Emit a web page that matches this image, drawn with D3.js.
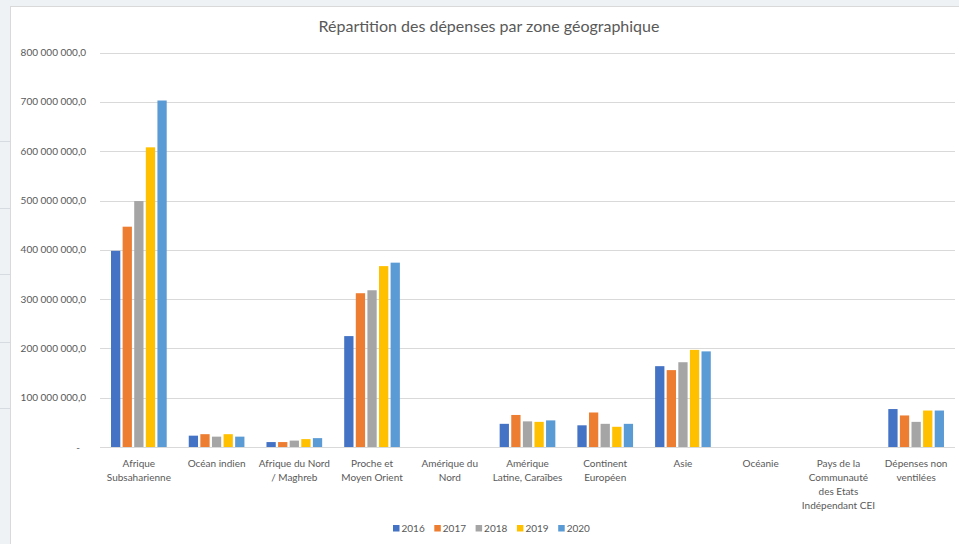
<!DOCTYPE html>
<html>
<head>
<meta charset="utf-8">
<script src="https://cdn.jsdelivr.net/npm/d3@7"></script>
<style>
  html, body { margin: 0; padding: 0; background: #eef2f5; overflow: hidden; }
  svg { display: block; font-family: Lato, "Liberation Sans", sans-serif; }
</style>
</head>
<body>
<script>
// categories (line breaks as in the Excel labels)
var categories = [
    ["Afrique", "Subsaharienne"],
    ["Océan indien"],
    ["Afrique du Nord", "/ Maghreb"],
    ["Proche et", "Moyen Orient"],
    ["Amérique du", "Nord"],
    ["Amérique", "Latine, Caraïbes"],
    ["Continent", "Européen"],
    ["Asie"],
    ["Océanie"],
    ["Pays de la", "Communauté", "des Etats", "Indépendant CEI"],
    ["Dépenses non", "ventilées"]
];
var years = ["2016", "2017", "2018", "2019", "2020"];
var colors = ["#4472C4", "#ED7D31", "#A5A5A5", "#FFC000", "#5B9BD5"];
// values in euros
var v2016 = [398e6, 23e6, 10e6, 225e6, 0, 47e6, 44e6, 164e6, 0, 0, 77e6];
var v2017 = [447e6, 26e6, 10e6, 312e6, 0, 65e6, 70e6, 156e6, 0, 0, 64e6];
var v2018 = [499e6, 21e6, 13e6, 318e6, 0, 52e6, 47e6, 172e6, 0, 0, 51e6];
var v2019 = [608e6, 26e6, 16e6, 367e6, 0, 51e6, 41e6, 197e6, 0, 0, 74e6];
var v2020 = [703e6, 21e6, 18e6, 374e6, 0, 54e6, 47e6, 194e6, 0, 0, 74e6];
var series = [v2016, v2017, v2018, v2019, v2020];
var yTicks = [0, 100e6, 200e6, 300e6, 400e6, 500e6, 600e6, 700e6, 800e6];

var W = 959, H = 544;
var svg = d3.select("body").append("svg")
    .attr("width", W)
    .attr("height", H);

// spreadsheet strip on the left
svg.append("rect")
    .attr("x", 0).attr("y", 0)
    .attr("width", W).attr("height", H)
    .attr("fill", "#eef2f5");
[141, 208, 274, 342, 408].forEach(function (y) {
    svg.append("line")
        .attr("x1", 0).attr("x2", 10)
        .attr("y1", y + 0.5).attr("y2", y + 0.5)
        .attr("stroke", "#d5dbe1");
});

// chart area
svg.append("rect")
    .attr("x", 10.5).attr("y", 6.5)
    .attr("width", W).attr("height", H)
    .attr("fill", "#ffffff")
    .attr("stroke", "#d9d9d9");

var x0 = d3.scaleBand()
    .domain(d3.range(categories.length))
    .range([100, 955]);
var x1 = d3.scaleBand()
    .domain(years)
    .range([0, x0.bandwidth()])
    .paddingInner(0.2)
    .paddingOuter(0.95);
var y = d3.scaleLinear()
    .domain([0, 800e6])
    .range([447, 52.7]);

var fr = d3.formatLocale({ decimal: ",", thousands: "\u00a0", grouping: [3], currency: ["", " €"] });
var fmt = fr.format(",.1f");

// gridlines + y labels
var yAxis = svg.append("g");
yAxis.selectAll("line")
    .data(yTicks)
    .enter().append("line")
    .attr("x1", 100).attr("x2", 955)
    .attr("y1", function (d) { return Math.round(y(d)) + 0.5; })
    .attr("y2", function (d) { return Math.round(y(d)) + 0.5; })
    .attr("stroke", "#d9d9d9");
yAxis.selectAll("text")
    .data(yTicks)
    .enter().append("text")
    .attr("x", function (d) { return d === 0 ? 80 : 86; })
    .attr("y", function (d) { return y(d) + 3.5; })
    .attr("text-anchor", "end")
    .attr("fill", "#595959")
    .style("font-size", "10px")
    .text(function (d) { return d === 0 ? "-" : fmt(d); });

// bars
var groups = svg.append("g").selectAll("g")
    .data(categories)
    .enter().append("g")
    .attr("transform", function (d, i) { return "translate(" + x0(i) + ",0)"; });
groups.selectAll("rect")
    .data(function (d, i) {
        return years.map(function (yr, k) { return { year: yr, k: k, value: series[k][i] }; });
    })
    .enter().append("rect")
    .attr("x", function (d) { return x1(d.year); })
    .attr("y", function (d) { return y(d.value); })
    .attr("width", x1.bandwidth())
    .attr("height", function (d) { return y(0) - y(d.value); })
    .attr("fill", function (d) { return colors[d.k]; });

// category labels
var lab = svg.append("g").selectAll("text")
    .data(categories)
    .enter().append("text")
    .attr("text-anchor", "middle")
    .attr("fill", "#595959")
    .style("font-size", "10px")
    .attr("transform", function (d, i) { return "translate(" + (x0(i) + x0.bandwidth() / 2) + ",467)"; });
lab.selectAll("tspan")
    .data(function (d) { return d; })
    .enter().append("tspan")
    .attr("x", 0)
    .attr("y", function (d, j) { return j * 14; })
    .text(function (d) { return d; });

// title
svg.append("text")
    .attr("x", 489).attr("y", 32)
    .attr("text-anchor", "middle")
    .attr("fill", "#595959")
    .style("font-size", "16px")
    .text("Répartition des dépenses par zone géographique");

// legend
var leg = svg.append("g").selectAll("g")
    .data(years)
    .enter().append("g")
    .attr("transform", function (d, i) { return "translate(" + (393 + i * 41.3) + ",525)"; });
leg.append("rect")
    .attr("width", 6.5).attr("height", 6.5)
    .attr("fill", function (d, i) { return colors[i]; });
leg.append("text")
    .attr("x", 8.5).attr("y", 7)
    .attr("fill", "#595959")
    .style("font-size", "10px")
    .text(function (d) { return d; });
</script>
</body>
</html>
